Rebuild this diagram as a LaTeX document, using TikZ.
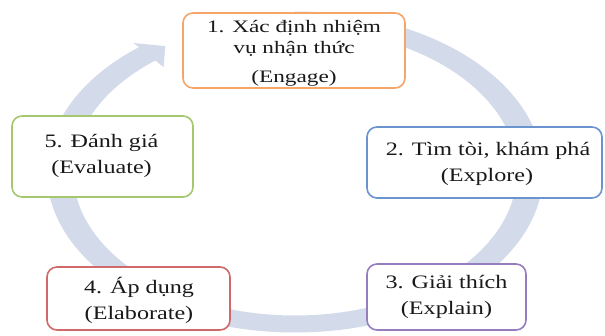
\documentclass[tikz,border=0pt]{standalone}
\usepackage{fontspec}
\setmainfont{Liberation Serif}[FakeStretch=1.33]
\newfontfamily\fontB{Liberation Serif}[FakeStretch=1.27]
\definecolor{bandc}{RGB}{211,218,234}
\definecolor{orangeB}{RGB}{246,165,105}
\definecolor{blueB}{RGB}{105,148,206}
\definecolor{purpleB}{RGB}{150,125,190}
\definecolor{redB}{RGB}{208,105,105}
\definecolor{greenB}{RGB}{165,200,110}
\definecolor{txtc}{RGB}{25,25,25}
\begin{document}
\begin{tikzpicture}[x=1pt,y=-1pt,
  box/.style={draw, fill=white, rounded corners=10pt, line width=1.6pt, inner sep=0pt},
  txt/.style={anchor=base, inner sep=0pt, text=txtc, font=\fontB\fontsize{19}{20}\selectfont},
  txtone/.style={anchor=base, inner sep=0pt, text=txtc, font=\fontsize{17.5}{20}\selectfont}]
\useasboundingbox (0,0) rectangle (605,336);
% circular arrow band
\begin{scope}[shift={(295,172)}, xscale=1.546, yscale=-1]
\fill[bandc] (90:160.5) arc[start angle=90, end angle=-231, radius=160.5]
  -- (-231:166) -- (-236.3:151.3) -- (-231:135) -- (-231:143.5)
  arc[start angle=-231, end angle=90, radius=143.5] -- cycle;
\end{scope}
% boxes
\node[box, draw=orangeB, minimum width=222pt, minimum height=75pt] (b1) at (294,50.5) {};
\node[box, draw=blueB, minimum width=235pt, minimum height=71pt] (b2) at (484.5,162.5) {};
\node[box, draw=purpleB, minimum width=159pt, minimum height=66pt] (b3) at (446.5,297) {};
\node[box, draw=redB, minimum width=183pt, minimum height=63pt] (b4) at (138.5,298.5) {};
\node[box, draw=greenB, minimum width=181pt, minimum height=81pt] (b5) at (102.5,156.5) {};
% texts
\node[txtone] (t1a) at (294,32.3) {1. Xác định nhiệm};
\node[txtone] (t1b) at (294,53.3) {vụ nhận thức};
\node[txtone] (t1c) at (294,82.3) {(Engage)};
\node[txt] (t2a) at (488,155.7) {2. Tìm tòi, khám phá};
\node[txt] (t2b) at (487,181.7) {(Explore)};
\node[txt] (t3a) at (446.5,288.3) {3. Giải thích};
\node[txt] (t3b) at (446.5,314.5) {(Explain)};
\node[txt] (t4a) at (139,294) {4. Áp dụng};
\node[txt] (t4b) at (139,320) {(Elaborate)};
\node[txt] (t5a) at (101.5,147.7) {5. Đánh giá};
\node[txt] (t5b) at (101.5,174) {(Evaluate)};
\end{tikzpicture}
\end{document}
